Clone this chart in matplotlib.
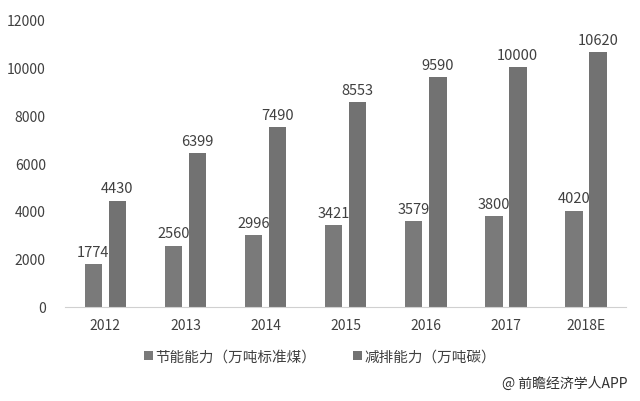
import numpy as np
import matplotlib.pyplot as plt

plt.rcParams['font.family'] = ['Noto Sans CJK SC', 'DejaVu Sans']

years = ['2012', '2013', '2014', '2015', '2016', '2017', '2018E']
energy_saving = [1774, 2560, 2996, 3421, 3579, 3800, 4020]
emission_cut = [4430, 6399, 7490, 8553, 9590, 10000, 10620]
series_names = ['节能能力（万吨标准煤）', '减排能力（万吨碳）']

fig = plt.figure(figsize=(6.4, 4.02), dpi=100)
ax = fig.add_axes([0.102, 0.234, 0.876, 0.716])

x = np.arange(len(years))
w = 0.22
off = 0.15
b1 = ax.bar(x - off, energy_saving, w, color='#7a7a7a', label=series_names[0])
b2 = ax.bar(x + off, emission_cut, w, color='#727272', label=series_names[1])

# value labels above each bar
for bars, vals in [(b1, energy_saving), (b2, emission_cut)]:
    for rect, v in zip(bars, vals):
        ax.text(rect.get_x() + rect.get_width() / 2, v + 220, str(v),
                ha='center', va='bottom', fontsize=10.5, color='#404040')

ax.set_xlim(-0.5, len(years) - 0.5)
ax.set_ylim(0, 12000)
ax.set_yticks(range(0, 12001, 2000))
ax.set_xticks(x)
ax.set_xticklabels(years)
ax.tick_params(axis='both', length=0, labelsize=10, labelcolor='#404040')
ax.tick_params(axis='x', pad=8)
ax.tick_params(axis='y', pad=14)
for s in ['top', 'right', 'left']:
    ax.spines[s].set_visible(False)
ax.spines['bottom'].set_color('#d0d0d0')

fig.legend(handles=[b1, b2], loc='center', bbox_to_anchor=(0.5, 0.11), ncol=2,
           frameon=False, fontsize=10.5, handlelength=0.6, handleheight=0.6,
           handletextpad=0.2, columnspacing=2.5, labelcolor='#404040')

fig.text(0.98, 0.045, '@ 前瞻经济学人APP', ha='right', va='center',
         fontsize=10, color='#303030')

fig.savefig('out.png', dpi=100)
